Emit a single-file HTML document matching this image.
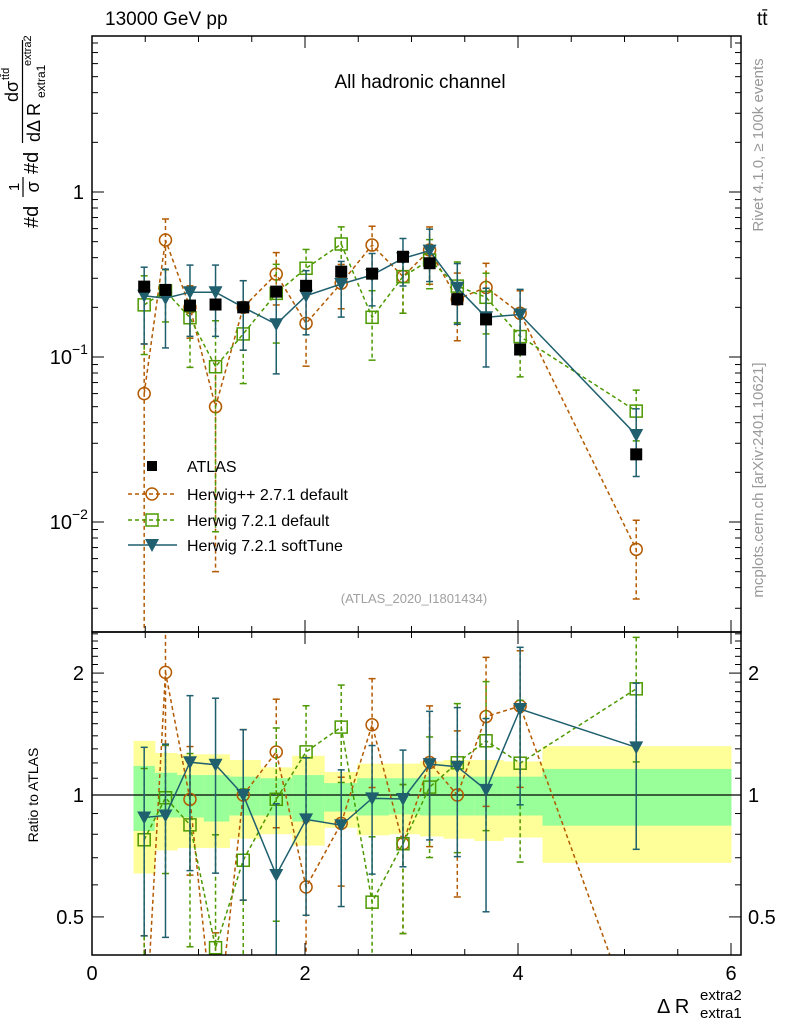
<!DOCTYPE html>
<html><head><meta charset="utf-8"><style>
html,body{margin:0;padding:0;background:#fff;width:786px;height:1024px;overflow:hidden}
svg{display:block;font-family:"Liberation Sans",sans-serif;overflow:hidden}
</style></head><body>
<svg id="c" width="786" height="1024" viewBox="0 0 786 1024" xmlns="http://www.w3.org/2000/svg">
<defs>
<clipPath id="cu"><rect x="92" y="36" width="649" height="596"/></clipPath>
<clipPath id="cl"><rect x="92" y="632" width="649" height="323"/></clipPath>
</defs>
<g id="bands" clip-path="url(#cl)"></g>
<g id="lower" clip-path="url(#cl)"></g>
<g id="upper" clip-path="url(#cu)"></g>
<g id="axes"></g>
<text x="105" y="25" font-size="19">13000 GeV pp</text>
<text x="757" y="25" font-size="19">tt̄</text>
<text x="420" y="88" font-size="19" text-anchor="middle">All hadronic channel</text>
<text x="414" y="603" font-size="13" fill="#a0a0a0" text-anchor="middle">(ATLAS_2020_I1801434)</text>
<text transform="translate(763,145) rotate(-90)" font-size="15" fill="#999" text-anchor="middle">Rivet 4.1.0, ≥ 100k events</text>
<text transform="translate(763,480) rotate(-90)" font-size="15" fill="#999" text-anchor="middle">mcplots.cern.ch [arXiv:2401.10621]</text>
<g transform="rotate(-90)" font-size="20">
<text x="-228" y="38">#d</text>
<text x="-187" y="19" font-size="15" text-anchor="middle">1</text>
<line x1="-197" x2="-177" y1="23" y2="23" stroke="#000" stroke-width="1.2"/>
<text x="-187" y="39" font-size="18" text-anchor="middle">σ</text>
<text x="-174" y="38">#d</text>
<line x1="-143" x2="-40" y1="22.5" y2="22.5" stroke="#000" stroke-width="1.2"/>
<text x="-102" y="18" font-size="18">dσ</text>
<text x="-80" y="9" font-size="11">tt̄d</text>
<text x="-142" y="40" font-size="18">dΔ R</text>
<text x="-98" y="45" font-size="12">extra1</text>
<text x="-66" y="31" font-size="11">extra2</text>
</g>
<text transform="translate(38,795) rotate(-90)" font-size="14" text-anchor="middle">Ratio to ATLAS</text>
<g>
<text x="657" y="1013" font-size="20">Δ R</text>
<text x="700" y="1000" font-size="15">extra2</text>
<text x="700" y="1018" font-size="15">extra1</text>
</g>
<g id="legend"></g>
</svg>
<script>
const xs = [0.49,0.69,0.92,1.16,1.42,1.73,2.01,2.34,2.63,2.92,3.17,3.43,3.70,4.02,5.11];
const atlas = [0.267,0.255,0.205,0.208,0.20,0.249,0.27,0.329,0.32,0.405,0.37,0.224,0.169,0.111,0.0257];
const hpp = [0.060,0.512,0.20,0.050,0.20,0.318,0.16,0.28,0.477,0.307,0.445,0.224,0.264,0.184,0.00683];
const hppErr = [1.0,0.34,0.35,0.9,0.45,0.35,0.45,0.3,0.3,0.4,0.38,0.44,0.4,0.37,0.5];
const h7 = [0.207,0.251,0.173,0.0873,0.138,0.243,0.345,0.484,0.174,0.307,0.387,0.269,0.23,0.133,0.047];
const h7Err = [0.5,0.35,0.5,0.9,0.5,0.5,0.3,0.27,0.45,0.4,0.33,0.4,0.4,0.43,0.34];
const soft = [0.235,0.227,0.247,0.247,0.20,0.158,0.235,0.277,0.314,0.396,0.441,0.263,0.174,0.181,0.0337];
const softErr = [0.49,0.5,0.46,0.46,0.45,0.5,0.42,0.37,0.35,0.32,0.35,0.4,0.5,0.42,0.44];
const binEdges = [0.39,0.59,0.80,1.05,1.29,1.58,1.88,2.18,2.49,2.79,3.08,3.30,3.59,3.86,4.23,6.0];
const yellowUp = [1.36,1.27,1.26,1.26,1.22,1.17,1.25,1.14,1.195,1.195,1.21,1.22,1.22,1.21,1.32];
const yellowDn = [0.64,0.73,0.74,0.74,0.78,0.80,0.75,0.83,0.795,0.80,0.79,0.78,0.77,0.785,0.68];
const greenUp = [1.18,1.135,1.12,1.12,1.11,1.10,1.12,1.07,1.10,1.10,1.11,1.11,1.11,1.11,1.16];
const greenDn = [0.815,0.88,0.88,0.86,0.89,0.89,0.86,0.91,0.89,0.895,0.89,0.89,0.89,0.89,0.84];
const xTicks = [0,2,4,6];

const NS="http://www.w3.org/2000/svg";
const X = v => 92 + 106.5*v;
const YU = v => 192 - 165*Math.log10(v);
const YL = r => 795 - 405*Math.log10(r);
function mk(parent, tag, attrs){const e=document.createElementNS(NS,tag);for(const k in attrs)e.setAttribute(k,attrs[k]);parent.appendChild(e);return e;}
const up=document.getElementById('upper'), lo=document.getElementById('lower'), bd=document.getElementById('bands'), ax=document.getElementById('axes'), lg=document.getElementById('legend');

for(let i=0;i<yellowUp.length;i++){
  const x1=X(binEdges[i]), x2=X(binEdges[i+1]);
  const y=mk(bd,'rect',{x:x1,y:YL(yellowUp[i]),width:x2-x1+0.5,height:YL(yellowDn[i])-YL(yellowUp[i]),fill:'#ffff99'});
  
  
  const g=mk(bd,'rect',{x:x1,y:YL(greenUp[i]),width:x2-x1+0.5,height:YL(greenDn[i])-YL(greenUp[i]),fill:'#99ff99'});
  
  
}
const one=mk(lo,'line',{x1:92,x2:741,y1:YL(1),y2:YL(1),stroke:'#000','stroke-width':1.3});



function marker(p,type,x,y,color){
  let e;
  if(type==='circle') e=mk(p,'circle',{cx:x,cy:y,r:6,fill:'none',stroke:color,'stroke-width':1.5});
  else if(type==='square') e=mk(p,'rect',{x:x-6,y:y-6,width:12,height:12,fill:'none',stroke:color,'stroke-width':1.5});
  else if(type==='tri') e=mk(p,'polygon',{points:`${x-7},${y-6} ${x+7},${y-6} ${x},${y+7}`,fill:color});
  else e=mk(p,'rect',{x:x-6,y:y-6,width:12,height:12,fill:color});
  return e;
}
function series(p,vals,errs,ref,Y,color,dash,type,name){
  const g=mk(p,'g',{});
  
  
  const pts=vals.map((v,i)=>[X(xs[i]),Y(ref?v/ref[i]:v)]);
  mk(g,'polyline',{points:pts.map(q=>q.join(',')).join(' '),fill:'none',stroke:color,'stroke-width':1.5,'stroke-dasharray':dash||'none'});
  vals.forEach((v,i)=>{
    const c=ref?v/ref[i]:v;
    const x=X(xs[i]);
    const yt=Y(c*(1+errs[i]));
    const lowv=c*(1-errs[i]);
    const yb=lowv>0.0005?Y(lowv):1100;
    mk(g,'line',{x1:x,x2:x,y1:yt,y2:yb,stroke:color,'stroke-width':1.5,'stroke-dasharray':dash||'none'});
    mk(g,'line',{x1:x-3.5,x2:x+3.5,y1:yt,y2:yt,stroke:color,'stroke-width':1.5});
    if(yb<1000) mk(g,'line',{x1:x-3.5,x2:x+3.5,y1:yb,y2:yb,stroke:color,'stroke-width':1.5});
    const m=marker(g,type,x,Y(c),color);
    
    
  });
}
const OR='#b35a00', GR='#4c9900', TE='#1f5f6e';
series(up,hpp,hppErr,null,YU,OR,'4,3','circle','herwigpp-series');
series(up,h7,h7Err,null,YU,GR,'4,3','square','herwig7-default-series');
series(up,soft,softErr,null,YU,TE,null,'tri','herwig7-softtune-series');
atlas.forEach((v,i)=>{
  const m=marker(up,'fill',X(xs[i]),YU(v),'#000');
  
  
});
series(lo,hpp,hppErr,atlas,YL,OR,'4,3','circle','herwigpp-ratio');
series(lo,h7,h7Err,atlas,YL,GR,'4,3','square','herwig7-default-ratio');
series(lo,soft,softErr,atlas,YL,TE,null,'tri','herwig7-softtune-ratio');

mk(ax,'rect',{x:92,y:36,width:649,height:596,fill:'none',stroke:'#000','stroke-width':1.5});
mk(ax,'rect',{x:92,y:632,width:649,height:323,fill:'none',stroke:'#000','stroke-width':1.5});
for(let t=0;t<=6.001;t+=0.5){
  const x=X(t), major=Math.abs(t-Math.round(t/2)*2)<1e-6;
  const L=major?12:6;
  [[632,-1],[955,-1],[36,1],[632,1]].forEach(([y,d])=>mk(ax,'line',{x1:x,x2:x,y1:y,y2:y+d*L,stroke:'#000','stroke-width':1}));
}
xTicks.forEach(t=>{const e=mk(ax,'text',{x:X(t),y:980,'font-size':20,'text-anchor':'middle'});e.textContent=t;
  
  });
for(let d=-3;d<=1;d++){for(let m=1;m<=9;m++){const v=m*Math.pow(10,d);const y=YU(v);if(y<36||y>632)continue;
  const L=m===1?12:6;mk(ax,'line',{x1:92,x2:92+L,y1:y,y2:y,stroke:'#000'});mk(ax,'line',{x1:741,x2:741-L,y1:y,y2:y,stroke:'#000'});}}
function ylab(txt,sup,y){const e=mk(ax,'text',{x:sup?72:84,y:y+7,'font-size':20,'text-anchor':'end'});e.textContent=txt;
  
  
  if(sup){const s=mk(ax,'text',{x:72,y:y-3,'font-size':14});s.textContent=sup;}}
ylab('1',null,YU(1));ylab('10','−1',YU(0.1));ylab('10','−2',YU(0.01));
for(let k=4;k<=25;k++){const r=k/10;const y=YL(r);if(y<632||y>955)continue;const major=(k===5||k===10||k===20);const L=major?12:6;
  mk(ax,'line',{x1:92,x2:92+L,y1:y,y2:y,stroke:'#000'});mk(ax,'line',{x1:741,x2:741-L,y1:y,y2:y,stroke:'#000'});}
[['2',2],['1',1],['0.5',0.5]].forEach(([t,r])=>{
  const a=mk(ax,'text',{x:84,y:YL(r)+7,'font-size':20,'text-anchor':'end'});a.textContent=t;
  
  
  const b=mk(ax,'text',{x:748,y:YL(r)+7,'font-size':20});b.textContent=t;
  
  
});
const entries=[['ATLAS','fill','#000',null,null],['Herwig++ 2.7.1 default','circle',OR,'4,3',1],['Herwig 7.2.1 default','square',GR,'4,3',1],['Herwig 7.2.1 softTune','tri',TE,null,1]];
const ly=[466,494,520,545];
entries.forEach((en,i)=>{
  const g=mk(lg,'g',{});
  
  
  if(en[4]) mk(g,'line',{x1:128,x2:177,y1:ly[i],y2:ly[i],stroke:en[2],'stroke-width':1.5,'stroke-dasharray':en[3]||'none'});
  if(en[1]==='fill') mk(g,'rect',{x:147,y:ly[i]-5,width:10,height:10,fill:'#000'});
  else marker(g,en[1],152,ly[i],en[2]);
  const t=mk(g,'text',{x:187,y:ly[i]+6,'font-size':16});t.textContent=en[0];
});
</script>
</body></html>
